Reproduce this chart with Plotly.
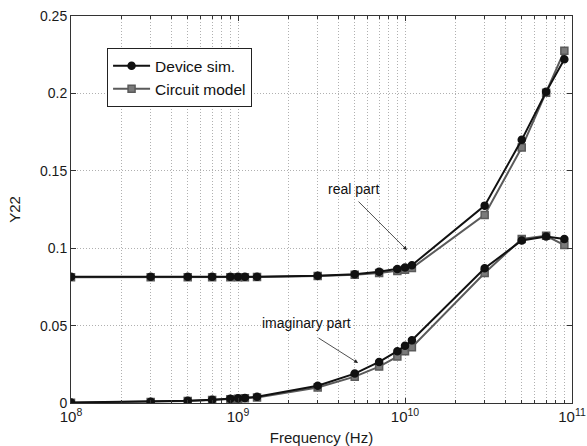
import plotly.graph_objects as go

freq = [1e8, 3e8, 5e8, 7e8, 9e8, 1e9, 1.1e9, 1.3e9, 3e9, 5e9, 7e9, 9e9,
        1e10, 1.1e10, 3e10, 5e10, 7e10, 9e10]
real_device = [0.0815, 0.0815, 0.0815, 0.0815, 0.0815, 0.0815, 0.0815, 0.0816, 0.0822,
               0.0832, 0.0848, 0.0865, 0.0875, 0.0890, 0.1275, 0.1700, 0.2010, 0.2220]
real_circuit = [0.0812, 0.0812, 0.0812, 0.0812, 0.0812, 0.0812, 0.0813, 0.0814, 0.0820,
                0.0828, 0.0840, 0.0852, 0.0860, 0.0872, 0.1215, 0.1650, 0.2005, 0.2275]
imag_device = [0.0003, 0.0008, 0.0015, 0.0021, 0.0027, 0.0030, 0.0033, 0.0040, 0.0112,
               0.0190, 0.0265, 0.0335, 0.0370, 0.0405, 0.0870, 0.1050, 0.1075, 0.1060]
imag_circuit = [0.0002, 0.0007, 0.0013, 0.0019, 0.0024, 0.0027, 0.0030, 0.0036, 0.0100,
                0.0170, 0.0235, 0.0300, 0.0335, 0.0360, 0.0840, 0.1060, 0.1080, 0.1020]
x_tickvals = [1e8, 1e9, 1e10, 1e11]
x_ticktext = ["10<sup>8</sup>", "10<sup>9</sup>", "10<sup>10</sup>", "10<sup>11</sup>"]

FONT = "Liberation Sans, Arial, sans-serif"
DEV_C = "#111111"
CIR_C = "#5a5a5a"
TXT = "#1a1a1a"

fig = go.Figure()

def add(y, name, color, symbol, show, rank, mfill):
    fig.add_trace(go.Scatter(
        x=freq, y=y, mode="lines+markers", name=name, legendgroup=name,
        showlegend=show, legendrank=rank,
        line=dict(color=color, width=2),
        marker=dict(symbol=symbol, size=7, color=mfill,
                    line=dict(color=color, width=1.5)),
    ))

add(real_circuit, "Circuit model", CIR_C, "square", True, 2, "#7a7a7a")
add(imag_circuit, "Circuit model", CIR_C, "square", False, 2, "#7a7a7a")
add(real_device, "Device sim.", DEV_C, "circle", True, 1, DEV_C)
add(imag_device, "Device sim.", DEV_C, "circle", False, 1, DEV_C)

GRIDC = "#b0b0b0"
GDASH = "1px,2px"

fig.update_xaxes(
    type="log", range=[8, 11], automargin=False, ticklabeloverflow="allow",
    tickvals=x_tickvals, ticktext=x_ticktext,
    showgrid=True, gridcolor=GRIDC, griddash=GDASH, gridwidth=1,
    ticks="inside", ticklen=5, tickcolor="#333",
    showline=True, linecolor="#333", linewidth=1, mirror="ticks",
    minor=dict(dtick="D1", showgrid=True, gridcolor=GRIDC, griddash=GDASH,
               ticks="inside", ticklen=3, tickcolor="#333"),
    tickfont=dict(family=FONT, size=15, color=TXT),
    title=dict(text="Frequency (Hz)", font=dict(family=FONT, size=15, color=TXT)),
    zeroline=False,
)
fig.update_yaxes(
    range=[0, 0.25], dtick=0.05, tick0=0, automargin=False, ticklabeloverflow="allow",
    showgrid=True, gridcolor=GRIDC, griddash=GDASH, gridwidth=1,
    ticks="inside", ticklen=5, tickcolor="#333",
    showline=True, linecolor="#333", linewidth=1, mirror="ticks",
    tickfont=dict(family=FONT, size=14, color=TXT),
    title=dict(text="Y22", font=dict(family=FONT, size=15, color=TXT)),
    zeroline=False,
)

fig.add_annotation(x=10.012, y=0.0988, xref="x", yref="y", text="",
                   showarrow=True, ax=-50, ay=-50, axref="pixel", ayref="pixel",
                   arrowhead=2, arrowsize=1, arrowwidth=0.8, arrowcolor="#222")
fig.add_annotation(x=9.719, y=0.0258, xref="x", yref="y", text="",
                   showarrow=True, ax=-41, ay=-26,
                   arrowhead=2, arrowsize=1, arrowwidth=0.8, arrowcolor="#222")
fig.add_annotation(x=9.69, y=0.138, xref="x", yref="y", text="real part",
                   showarrow=False, font=dict(family=FONT, size=14, color="#111"))
fig.add_annotation(x=9.41, y=0.052, xref="x", yref="y", text="imaginary part",
                   showarrow=False, font=dict(family=FONT, size=14, color="#111"))

fig.update_layout(
    width=587, height=446,
    margin=dict(l=71, r=15, t=16, b=43),
    paper_bgcolor="white", plot_bgcolor="white",
    showlegend=True,
    legend=dict(x=0.072, y=0.917, xanchor="left", yanchor="top",
                bordercolor="#222", borderwidth=1, bgcolor="white",
                font=dict(family=FONT, size=15.5, color="#111"),
                tracegroupgap=0, itemwidth=37),
    font=dict(family=FONT),
)

fig.write_html("out.html", config={"displayModeBar": False},
               post_script="document.body.style.margin='0';document.body.style.overflow='hidden';")
